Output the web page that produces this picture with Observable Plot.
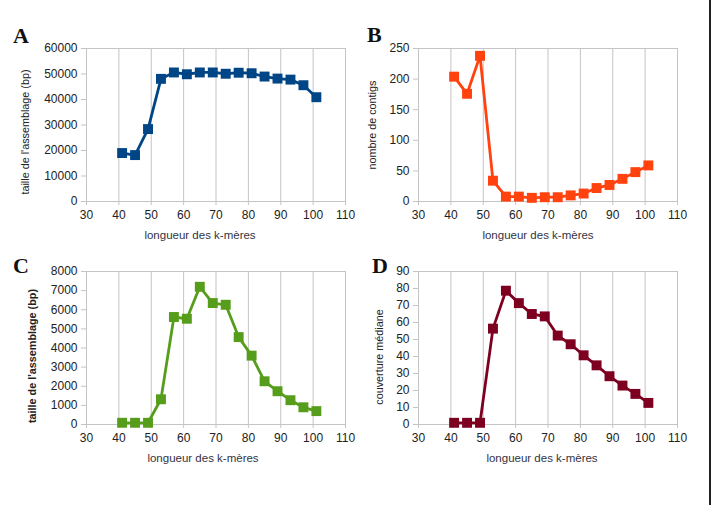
<!DOCTYPE html>
<html>
<head>
<meta charset="utf-8">
<script src="https://cdn.jsdelivr.net/npm/d3@7"></script>
<script src="https://cdn.jsdelivr.net/npm/@observablehq/plot@0.6"></script>
<style>
  html, body { margin: 0; padding: 0; background: #fff; }
  #wrap { position: relative; width: 711px; height: 505px; overflow: hidden; background: #fff; }
  .panel { position: absolute; }
  .letter { position: absolute; font-family: "Liberation Serif", "DejaVu Serif", serif; font-weight: bold; font-size: 22px; color: #111; line-height: 1; }
  #edge { position: absolute; left: 709px; top: 0; width: 2px; height: 505px; background: #222; }
</style>
</head>
<body>
<div id="wrap">
  <div id="edge"></div>
</div>
<script>
// k-mer lengths
const kmers = [41, 45, 49, 53, 57, 61, 65, 69, 73, 77, 81, 85, 89, 93, 97, 101];
// A: assembly size (bp)
const tailleA = [19000, 18200, 28400, 48100, 50600, 49900, 50600, 50600, 50100, 50500, 50300, 49000, 48200, 47800, 45600, 40900];
// B: number of contigs
const contigsB = [204, 176, 238, 34, 8, 8, 6, 7, 7, 10, 13, 22, 27, 37, 48, 59];
// C: assembly size (bp)
const tailleC = [90, 90, 90, 1320, 5620, 5530, 7200, 6350, 6260, 4570, 3600, 2260, 1740, 1270, 900, 700];
// D: median coverage
const couvD = [1, 1, 1, 56.4, 78.7, 71.4, 65, 63.6, 52.3, 47.2, 40.7, 34.8, 28.4, 22.9, 18, 12.7];

const xTicks = [30, 40, 50, 60, 70, 80, 90, 100, 110];
const yTicksA = [0, 10000, 20000, 30000, 40000, 50000, 60000];
const yTicksB = [0, 50, 100, 150, 200, 250];
const yTicksC = [0, 1000, 2000, 3000, 4000, 5000, 6000, 7000, 8000];
const yTicksD = [0, 10, 20, 30, 40, 50, 60, 70, 80, 90];

const xTitle = "longueur des k-mères";
const panels = [
  {letter: "A", values: tailleA, yTicks: yTicksA, yTitle: "taille de l'assemblage (bp)", color: "#004586",
   left: 0, top: 0, width: 355, height: 250, m: {t: 48, l: 86, r: 10, b: 49}, yOff: -61, yDy: 7, xDx: -16, lx: 13, ly: 25, titleWeight: "normal"},
  {letter: "B", values: contigsB, yTicks: yTicksB, yTitle: "nombre de contigs", color: "#ff420e",
   left: 355, top: 0, width: 335, height: 250, m: {t: 48, l: 63, r: 13, b: 49}, yOff: -46, yDy: 0, xDx: -10, lx: 367, ly: 24, titleWeight: "normal"},
  {letter: "C", values: tailleC, yTicks: yTicksC, yTitle: "taille de l'assemblage (bp)", color: "#579d1c",
   left: 0, top: 250, width: 355, height: 255, m: {t: 21, l: 86, r: 10, b: 81}, yOff: -54, yDy: 8, xDx: -13, lx: 13, ly: 255, titleWeight: "bold"},
  {letter: "D", values: couvD, yTicks: yTicksD, yTitle: "couverture médiane", color: "#7e0021",
   left: 355, top: 250, width: 335, height: 255, m: {t: 21, l: 63, r: 13, b: 81}, yOff: -39, yDy: 9, xDx: -6, lx: 372, ly: 255, titleWeight: "normal"}
];

const wrap = document.getElementById("wrap");
const gridColor = "#c4c4c4";

for (const p of panels) {
  const data = kmers.map((k, i) => ({k, v: p.values[i]}));
  const yMax = p.yTicks[p.yTicks.length - 1];
  const chart = Plot.plot({
    width: p.width,
    height: p.height,
    marginTop: p.m.t,
    marginLeft: p.m.l,
    marginRight: p.m.r,
    marginBottom: p.m.b,
    style: {fontFamily: "'Liberation Sans', Arial, sans-serif", fontSize: "12px", color: "#222", background: "transparent", overflow: "visible"},
    x: {domain: [30, 110]},
    y: {domain: [0, yMax]},
    marks: [
      Plot.gridX(xTicks, {stroke: gridColor, strokeOpacity: 1, strokeWidth: 1}),
      Plot.ruleY([yMax], {stroke: gridColor, strokeWidth: 1}),
      Plot.ruleY([0], {stroke: gridColor, strokeWidth: 1}),
      Plot.ruleX([30], {stroke: gridColor, strokeWidth: 1}),
      Plot.axisX({ticks: xTicks, tickSize: 4, tickPadding: 5, stroke: gridColor, label: null, fontSize: 12, fill: "#222"}),
      Plot.axisY({ticks: p.yTicks, tickSize: 5, tickPadding: 4, stroke: gridColor, label: null, fontSize: 12, fill: "#222", tickFormat: d => String(d)}),
      Plot.text([p.yTitle], {frameAnchor: "left", textAnchor: "middle", lineAnchor: "middle", rotate: -90, dx: p.yOff, dy: p.yDy, fontSize: 10.8, fill: "#222", fontWeight: p.titleWeight}),
      Plot.text([xTitle], {frameAnchor: "bottom", textAnchor: "middle", dy: 37, dx: p.xDx, fontSize: 11.5, fill: "#334"}),
      Plot.line(data, {x: "k", y: "v", stroke: p.color, strokeWidth: 2.8}),
      Plot.dot(data, {x: "k", y: "v", symbol: "square", r: 5.6, fill: p.color, stroke: "none"})
    ]
  });
  chart.classList.add("panel");
  chart.style.left = p.left + "px";
  chart.style.top = p.top + "px";
  wrap.appendChild(chart);

  const lt = document.createElement("div");
  lt.className = "letter";
  lt.textContent = p.letter;
  lt.style.left = p.lx + "px";
  lt.style.top = p.ly + "px";
  wrap.appendChild(lt);
}
</script>
</body>
</html>
